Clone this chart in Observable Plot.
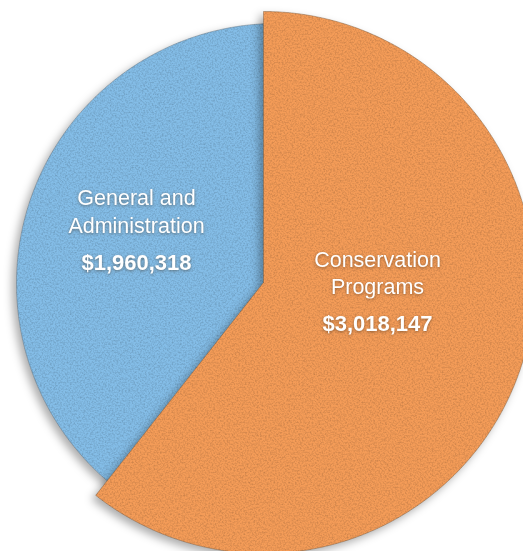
<!DOCTYPE html>
<html>
<head>
<meta charset="utf-8">
<script src="https://cdn.jsdelivr.net/npm/d3@7"></script>
<script src="https://cdn.jsdelivr.net/npm/@observablehq/plot@0.6"></script>
<style>
  html, body { margin: 0; padding: 0; background: #ffffff; }
  #chart { width: 523px; height: 551px; overflow: hidden; }
  svg { display: block; }
</style>
</head>
<body>
<div id="chart"></div>
<script>
// ---- data ----
const categories = ["Conservation Programs", "General and Administration"];
const amounts = [3018147, 1960318];
const labelLines = [["Conservation", "Programs"], ["General and", "Administration"]];
const colors = ["#f49c58", "#84bde7"];

// ---- layout (pixels) ----
const W = 523, H = 551;
const PX = 271;                       // px per unit (radius of the pulled-out slice)
const origin = {x: 263, y: 282};      // apex of the first slice
const sliceLayout = [
  {dx: 0,  dy: 0, r: 271},            // Conservation Programs
  {dx: 13, dy: 1, r: 260}             // General and Administration
];
const labelLayout = [
  {dx: 114, dy: -16, gaps: [27, 37]},
  {dx: -127, dy: -78, gaps: [28, 37]}
];

const fmt = d3.format("$,");
const arcs = d3.pie().sort(null)(amounts);

// polygon points for each slice, computed from the pie angles
function slicePoints(i) {
  const a = arcs[i], L = sliceLayout[i];
  const cx = L.dx / PX, cy = L.dy / PX, r = L.r / PX;
  const pts = [{x: cx, y: cy, k: categories[i]}];
  const n = Math.ceil((a.endAngle - a.startAngle) / (Math.PI / 360));
  for (let j = 0; j <= n; j++) {
    const t = a.startAngle + (a.endAngle - a.startAngle) * j / n;
    pts.push({x: cx + r * Math.sin(t), y: cy - r * Math.cos(t), k: categories[i]});
  }
  pts.push({x: cx, y: cy, k: categories[i]});
  return pts;
}

// label rows
const labelRows = [];
categories.forEach((c, i) => {
  const L = labelLayout[i];
  let y = L.dy;
  labelLines[i].forEach((line) => {
    labelRows.push({x: L.dx / PX, y: y / PX, text: line, bold: false});
    y += L.gaps[0];
  });
  y += L.gaps[1] - L.gaps[0];
  labelRows.push({x: L.dx / PX, y: y / PX, text: fmt(amounts[i]), bold: true});
});

const FONT = "'Liberation Sans', Arial, Helvetica, sans-serif";

const plot = Plot.plot({
  width: W,
  height: H,
  margin: 0,
  style: {background: "transparent", overflow: "hidden"},
  x: {domain: [-origin.x / PX, (W - origin.x) / PX], range: [0, W], axis: null},
  y: {domain: [-origin.y / PX, (H - origin.y) / PX], range: [0, H], axis: null},
  marks: [
    Plot.line(slicePoints(1), {x: "x", y: "y", fill: colors[1], stroke: "#5f6f7c", strokeWidth: 0.8, strokeOpacity: 0.55, curve: "linear"}),
    Plot.line(slicePoints(0), {x: "x", y: "y", fill: colors[0], stroke: "#7a5a3c", strokeWidth: 0.8, strokeOpacity: 0.55, curve: "linear"}),
    Plot.text(labelRows.filter(d => !d.bold), {x: "x", y: "y", text: "text", fill: "white", fontSize: 21.5, fontFamily: FONT, lineAnchor: "bottom", textAnchor: "middle"}),
    Plot.text(labelRows.filter(d => d.bold), {x: "x", y: "y", text: "text", fill: "white", fontSize: 22, fontWeight: "bold", fontFamily: FONT, lineAnchor: "bottom", textAnchor: "middle"})
  ]
});

document.getElementById("chart").appendChild(plot);

const svg = d3.select(plot);
svg.insert("defs", ":first-child").html(`
  <filter id="sliceFx" x="-10%" y="-10%" width="120%" height="120%" color-interpolation-filters="sRGB">
    <feGaussianBlur in="SourceAlpha" stdDeviation="4" result="b"/>
    <feOffset in="b" dx="-4" dy="4" result="bo"/>
    <feFlood flood-color="#000" flood-opacity="0.32" result="fl"/>
    <feComposite in="fl" in2="bo" operator="in" result="shadow"/>
    <feTurbulence type="fractalNoise" baseFrequency="0.6" numOctaves="2" seed="7" result="noise"/>
    <feColorMatrix in="noise" type="matrix" values="0 0 0 0 0  0 0 0 0 0  0 0 0 0 0  0.35 0 0 0 -0.14" result="speck"/>
    <feComposite in="speck" in2="SourceGraphic" operator="in" result="tex"/>
    <feMerge>
      <feMergeNode in="shadow"/>
      <feMergeNode in="SourceGraphic"/>
      <feMergeNode in="tex"/>
    </feMerge>
  </filter>
  <filter id="textFx" x="-20%" y="-40%" width="140%" height="180%" color-interpolation-filters="sRGB">
    <feGaussianBlur in="SourceAlpha" stdDeviation="1.6" result="b"/>
    <feOffset in="b" dx="0" dy="1" result="bo"/>
    <feFlood flood-color="#3a2a1a" flood-opacity="0.5" result="fl"/>
    <feComposite in="fl" in2="bo" operator="in" result="shadow"/>
    <feMerge>
      <feMergeNode in="shadow"/>
      <feMergeNode in="SourceGraphic"/>
    </feMerge>
  </filter>
`);
svg.selectAll('g[aria-label="line"]').attr("filter", "url(#sliceFx)");
svg.selectAll('g[aria-label="text"]').attr("filter", "url(#textFx)");
</script>
</body>
</html>
